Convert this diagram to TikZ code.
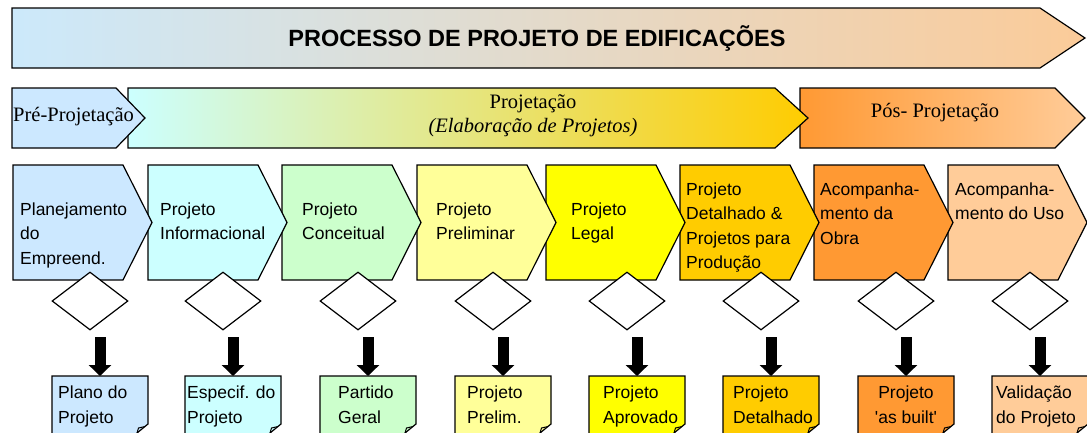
\documentclass[tikz,border=0pt]{standalone}
\usepackage{fontspec}
\setmainfont{Liberation Serif}
\setsansfont{Liberation Sans}
\usetikzlibrary{shapes.geometric,arrows.meta}
\definecolor{c1}{RGB}{204,232,255}
\definecolor{c2}{RGB}{204,255,255}
\definecolor{c3}{RGB}{204,255,204}
\definecolor{c4}{RGB}{255,255,153}
\definecolor{c5}{RGB}{255,255,0}
\definecolor{c6}{RGB}{255,204,0}
\definecolor{c7}{RGB}{255,153,51}
\definecolor{c8}{RGB}{255,204,153}
\definecolor{banL}{RGB}{204,233,251}
\definecolor{banM}{RGB}{226,226,226}
\definecolor{banR}{RGB}{251,203,153}
\definecolor{prjL}{RGB}{204,255,255}
\definecolor{prjM}{RGB}{232,230,190}
\definecolor{prjR}{RGB}{255,204,0}
\definecolor{posL}{RGB}{255,153,51}
\definecolor{posR}{RGB}{255,204,153}
\begin{document}
\begin{tikzpicture}[x=1pt,y=-1pt,
  outl/.style={draw=black,line width=1.2pt,line join=miter},
  stxt/.style={font=\sffamily\fontsize{17.5}{24.5}\selectfont,align=left,anchor=north west,inner sep=0pt},
  dtxt/.style={font=\sffamily\fontsize{17.5}{25}\selectfont,align=left,anchor=north west,inner sep=0pt},
  serif/.style={font=\rmfamily\fontsize{20.5}{24}\selectfont,inner sep=0pt},
  dia/.style={shape=diamond,draw=black,fill=white,line width=1.2pt,minimum width=76pt,minimum height=58pt,inner sep=0pt},
  blockarrow/.style={line width=11pt,-{Triangle[width=22pt,length=11pt]}}
]
\useasboundingbox (0,0) rectangle (1087,432);
\clip (0,0) rectangle (1087,432);
\fill[white] (0,0) rectangle (1087,432);

% top banner
\shade[left color=banL,middle color=banM,right color=banR]
  (12,8) -- (1040,8) -- (1085,38) -- (1040,68) -- (12,68) -- cycle;
\draw[outl] (12,8) -- (1040,8) -- (1085,38) -- (1040,68) -- (12,68) -- cycle;
\node[font=\sffamily\bfseries\fontsize{23.5}{28}\selectfont] (title) at (537,38) {PROCESSO DE PROJETO DE EDIFICAÇÕES};

% phase row
\shade[left color=posL,right color=posR]
  (800,88) -- (1055,88) -- (1085,118) -- (1055,148) -- (800,148) -- cycle;
\draw[outl] (800,88) -- (1055,88) -- (1085,118) -- (1055,148) -- (800,148) -- cycle;
\shade[left color=prjL,middle color=prjM,right color=prjR]
  (128,88) -- (775,88) -- (808,118) -- (775,148) -- (128,148) -- cycle;
\draw[outl] (128,88) -- (775,88) -- (808,118) -- (775,148) -- (128,148) -- cycle;
\fill[c1] (12,88) -- (116,88) -- (145,118) -- (116,148) -- (12,148) -- cycle;
\draw[outl] (12,88) -- (116,88) -- (145,118) -- (116,148) -- (12,148) -- cycle;
\node[serif,anchor=west] (pre) at (13,117) {Pré-Projetação};
\node[serif,align=center] (proj) at (533,116) {Projetação\\\textit{(Elaboração de Projetos)}};
\node[serif] (pos) at (935,113) {Pós- Projetação};

% stage chevrons (drawn right to left so each tip lies on the next box)
\foreach \L/\col in {948/c8,814/c7,680/c6,546/c5,417/c4,282/c3,148/c2,13/c1}{
  \fill[\col] (\L,165) -- (\L+110,165) -- (\L+139,222.5) -- (\L+110,280) -- (\L,280) -- cycle;
  \draw[outl] (\L,165) -- (\L+110,165) -- (\L+139,222.5) -- (\L+110,280) -- (\L,280) -- cycle;
}
\node[stxt] (s1) at (20,202.5) {Planejamento\\do\\Empreend.};
\node[stxt] (s2) at (160,202.5) {Projeto\\Informacional};
\node[stxt] (s3) at (302,202.5) {Projeto\\Conceitual};
\node[stxt] (s4) at (436,202.5) {Projeto\\Preliminar};
\node[stxt] (s5) at (571,202.5) {Projeto\\Legal};
\node[stxt] (s6) at (686,182.5) {Projeto\\Detalhado \&\\Projetos para\\Produção};
\node[stxt] (s7) at (820,182.5) {Acompanha-\\mento da\\Obra};
\node[stxt] (s8) at (955,182.5) {Acompanha-\\mento do Uso};

% decisions, arrows and output documents
\foreach \c/\col/\i in {100/c1/1,233/c2/2,368/c3/3,503/c4/4,637/c5/5,771/c6/6,906/c7/7,1040/c8/8}{
  \fill[\col] (\c-48,440) -- (\c-48,376) -- (\c+48,376) -- (\c+48,424) -- (\c+37,433) -- (\c+37,440) -- cycle;
  \draw[outl] (\c-48,440) -- (\c-48,376) -- (\c+48,376) -- (\c+48,424) -- (\c+37,433);
  \draw[line width=1pt] (\c+45,426.5) -- (\c+38.5,428) -- (\c+37,433);
  \coordinate (top\i) at (\c,376);
  \coordinate (as\i) at (\c,337);
  \node[dia] (dm\i) at (\c-10,301) {};
  \draw[blockarrow] (as\i) -- (top\i);
}
\node[dtxt] (d1) at (58,385.5) {Plano do\\Projeto};
\node[dtxt] (d2) at (187,385.5) {Especif. do\\Projeto};
\node[dtxt] (d3) at (338,385.5) {Partido\\Geral};
\node[dtxt] (d4) at (467,385.5) {Projeto\\Prelim.};
\node[dtxt] (d5) at (603,385.5) {Projeto\\Aprovado};
\node[dtxt] (d6) at (733,385.5) {Projeto\\Detalhado};
\node[dtxt,align=center,anchor=north] (d7) at (906,385.5) {Projeto\\\textquotesingle as built\textquotesingle};
\node[dtxt] (d8) at (996,385.5) {Validação\\do Projeto};
\end{tikzpicture}
\end{document}
